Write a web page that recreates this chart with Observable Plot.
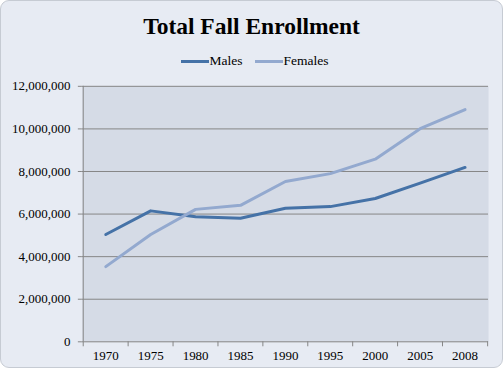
<!DOCTYPE html>
<html>
<head>
<meta charset="utf-8">
<script src="https://cdn.jsdelivr.net/npm/d3@7"></script>
<script src="https://cdn.jsdelivr.net/npm/@observablehq/plot@0.6"></script>
<style>
  html, body { margin: 0; padding: 0; background: #ffffff; }
  #wrap {
    position: relative; width: 501px; height: 366px;
    border: 1px solid #c6cbd3; border-radius: 9px;
    background: #e7ebf3; overflow: hidden;
    font-family: "Liberation Serif", "Times New Roman", serif;
  }
  #title {
    position: absolute; left: -1px; top: 13px; width: 503px; text-align: center;
    font-size: 23.5px; font-weight: bold; line-height: 24px; color: #000;
  }
  #legend {
    position: absolute; left: 2px; top: 45px; width: 503px; height: 30px;
    display: flex; justify-content: center; align-items: center; gap: 12px;
    font-size: 13.5px; color: #000;
  }
  .item { display: flex; align-items: center; }
  .sw { display: inline-block; width: 28px; height: 3px; margin-right: 1px; }
  #chart { position: absolute; left: -1px; top: -1px; }
</style>
</head>
<body>
<div id="wrap">
  <div id="title">Total Fall Enrollment</div>
  <div id="legend"></div>
  <div id="chart"></div>
</div>
<script>
const years = ["1970","1975","1980","1985","1990","1995","2000","2005","2008"];
const males = [5040000, 6150000, 5870000, 5800000, 6270000, 6350000, 6730000, 7450000, 8190000];
const females = [3530000, 5040000, 6220000, 6410000, 7530000, 7900000, 8580000, 10010000, 10910000];
const seriesNames = ["Males", "Females"];
const seriesColors = ["#4572a7", "#93a9cf"];
const yTicks = [0, 2000000, 4000000, 6000000, 8000000, 10000000, 12000000];

const data = [];
years.forEach((y, i) => {
  data.push({year: y, value: males[i], series: "Males"});
  data.push({year: y, value: females[i], series: "Females"});
});

const legend = document.getElementById("legend");
seriesNames.forEach((n, i) => {
  const it = document.createElement("div");
  it.className = "item";
  const sw = document.createElement("span");
  sw.className = "sw";
  sw.style.background = seriesColors[i];
  const t = document.createElement("span");
  t.textContent = n;
  it.appendChild(sw); it.appendChild(t);
  legend.appendChild(it);
});

const W = 503, H = 370, ml = 82, mr = 14, mt = 86, mb = 28;
const bw = (W - ml - mr) / years.length;
const axisColor = "#868686";
const serif = "Liberation Serif";

const chart = Plot.plot({
  width: W, height: H,
  marginLeft: ml, marginRight: mr, marginTop: mt, marginBottom: mb,
  style: {background: "transparent", fontFamily: serif, fontSize: "13px", color: "#000"},
  x: {type: "band", domain: years, padding: 0},
  y: {domain: [0, 12000000]},
  color: {domain: seriesNames, range: seriesColors},
  marks: [
    Plot.frame({fill: "#d5dbe6", stroke: null}),
    Plot.gridY(yTicks, {stroke: axisColor, strokeOpacity: 1, strokeWidth: 1}),
    Plot.ruleX([years[0]], {dx: -bw / 2, stroke: axisColor}),
    Plot.axisY(yTicks, {tickSize: 4, tickPadding: 8, tickFormat: d => d3.format(",")(d), stroke: axisColor, fill: "#000", label: null, fontSize: 13, fontFamily: serif}),
    Plot.axisX({tickSize: 5, text: null, dx: -bw / 2, stroke: axisColor, label: null}),
    Plot.axisX([years[years.length - 1]], {tickSize: 5, text: null, dx: bw / 2, stroke: axisColor, label: null}),
    Plot.axisX({tickSize: 0, tickPadding: 9, fill: "#000", label: null, fontSize: 13, fontFamily: serif}),
    Plot.lineY(data, {x: "year", y: "value", stroke: "series", strokeWidth: 3, z: "series"})
  ]
});
document.getElementById("chart").appendChild(chart);
</script>
</body>
</html>
